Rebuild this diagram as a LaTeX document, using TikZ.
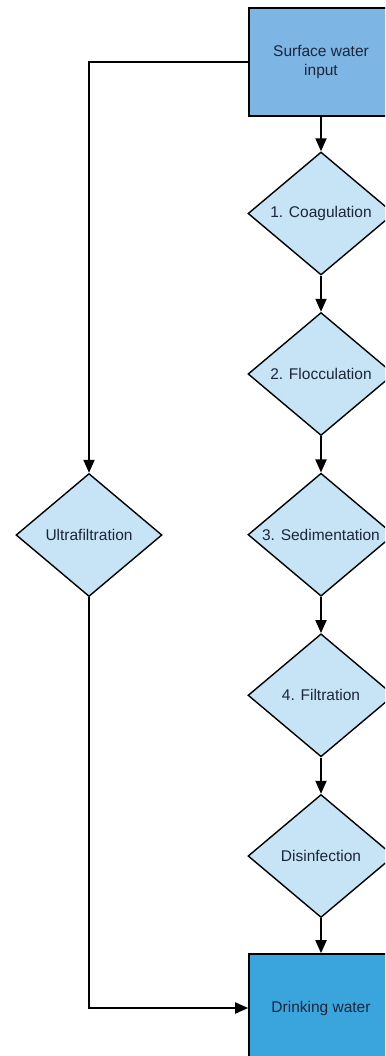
\documentclass[tikz,border=0pt]{standalone}
\usepackage{fontspec}
\setmainfont{Liberation Sans}
\usetikzlibrary{shapes.geometric,arrows.meta}
\definecolor{inbox}{RGB}{125,181,228}
\definecolor{outbox}{RGB}{58,164,220}
\definecolor{stepfill}{RGB}{198,228,246}
\definecolor{ink}{RGB}{28,38,56}
\begin{document}
\begin{tikzpicture}[x=1pt,y=-1pt,
  every node/.style={font=\fontsize{15.5}{18.5}\selectfont, text=ink},
  ioblock/.style={rectangle, draw=black, line width=1.6pt, minimum width=144pt, minimum height=108pt, inner sep=0pt, align=center},
  stage/.style={diamond, draw=black, line width=1.4pt, fill=stepfill, minimum width=146pt, minimum height=123pt, inner sep=0pt},
  flow/.style={draw=black, line width=1.9pt, -{Triangle[length=13pt,width=11pt]}}]
\useasboundingbox (0,0) rectangle (385,1056);
\clip (0,0) rectangle (385,1056);
\fill[white] (0,0) rectangle (385,1056);

% input and output blocks
\node[ioblock, fill=inbox] (src) at (321,62) {Surface water\\input};
\node[ioblock, fill=outbox] (out) at (321,1008) {Drinking water};

% conventional treatment chain
\node[stage] (coag) at (321,213.5) {\makebox[0pt]{1. Coagulation}};
\node[stage] (floc) at (321,374) {\makebox[0pt]{2. Flocculation}};
\node[stage] (sed)  at (321,534.7) {\makebox[0pt]{3. Sedimentation}};
\node[stage] (filt) at (321,695.3) {\makebox[0pt]{4. Filtration}};
\node[stage] (dis)  at (321,856) {\makebox[0pt]{Disinfection}};

% membrane alternative
\node[stage] (uf) at (89,535) {\makebox[0pt]{Ultrafiltration}};

\draw[flow] (src) -- (coag);
\draw[flow] (coag) -- (floc);
\draw[flow] (floc) -- (sed);
\draw[flow] (sed) -- (filt);
\draw[flow] (filt) -- (dis);
\draw[flow] (dis) -- (out);
\draw[flow] (src.west) -| (uf.north);
\draw[flow] (uf.south) |- (out.west);
\end{tikzpicture}
\end{document}
